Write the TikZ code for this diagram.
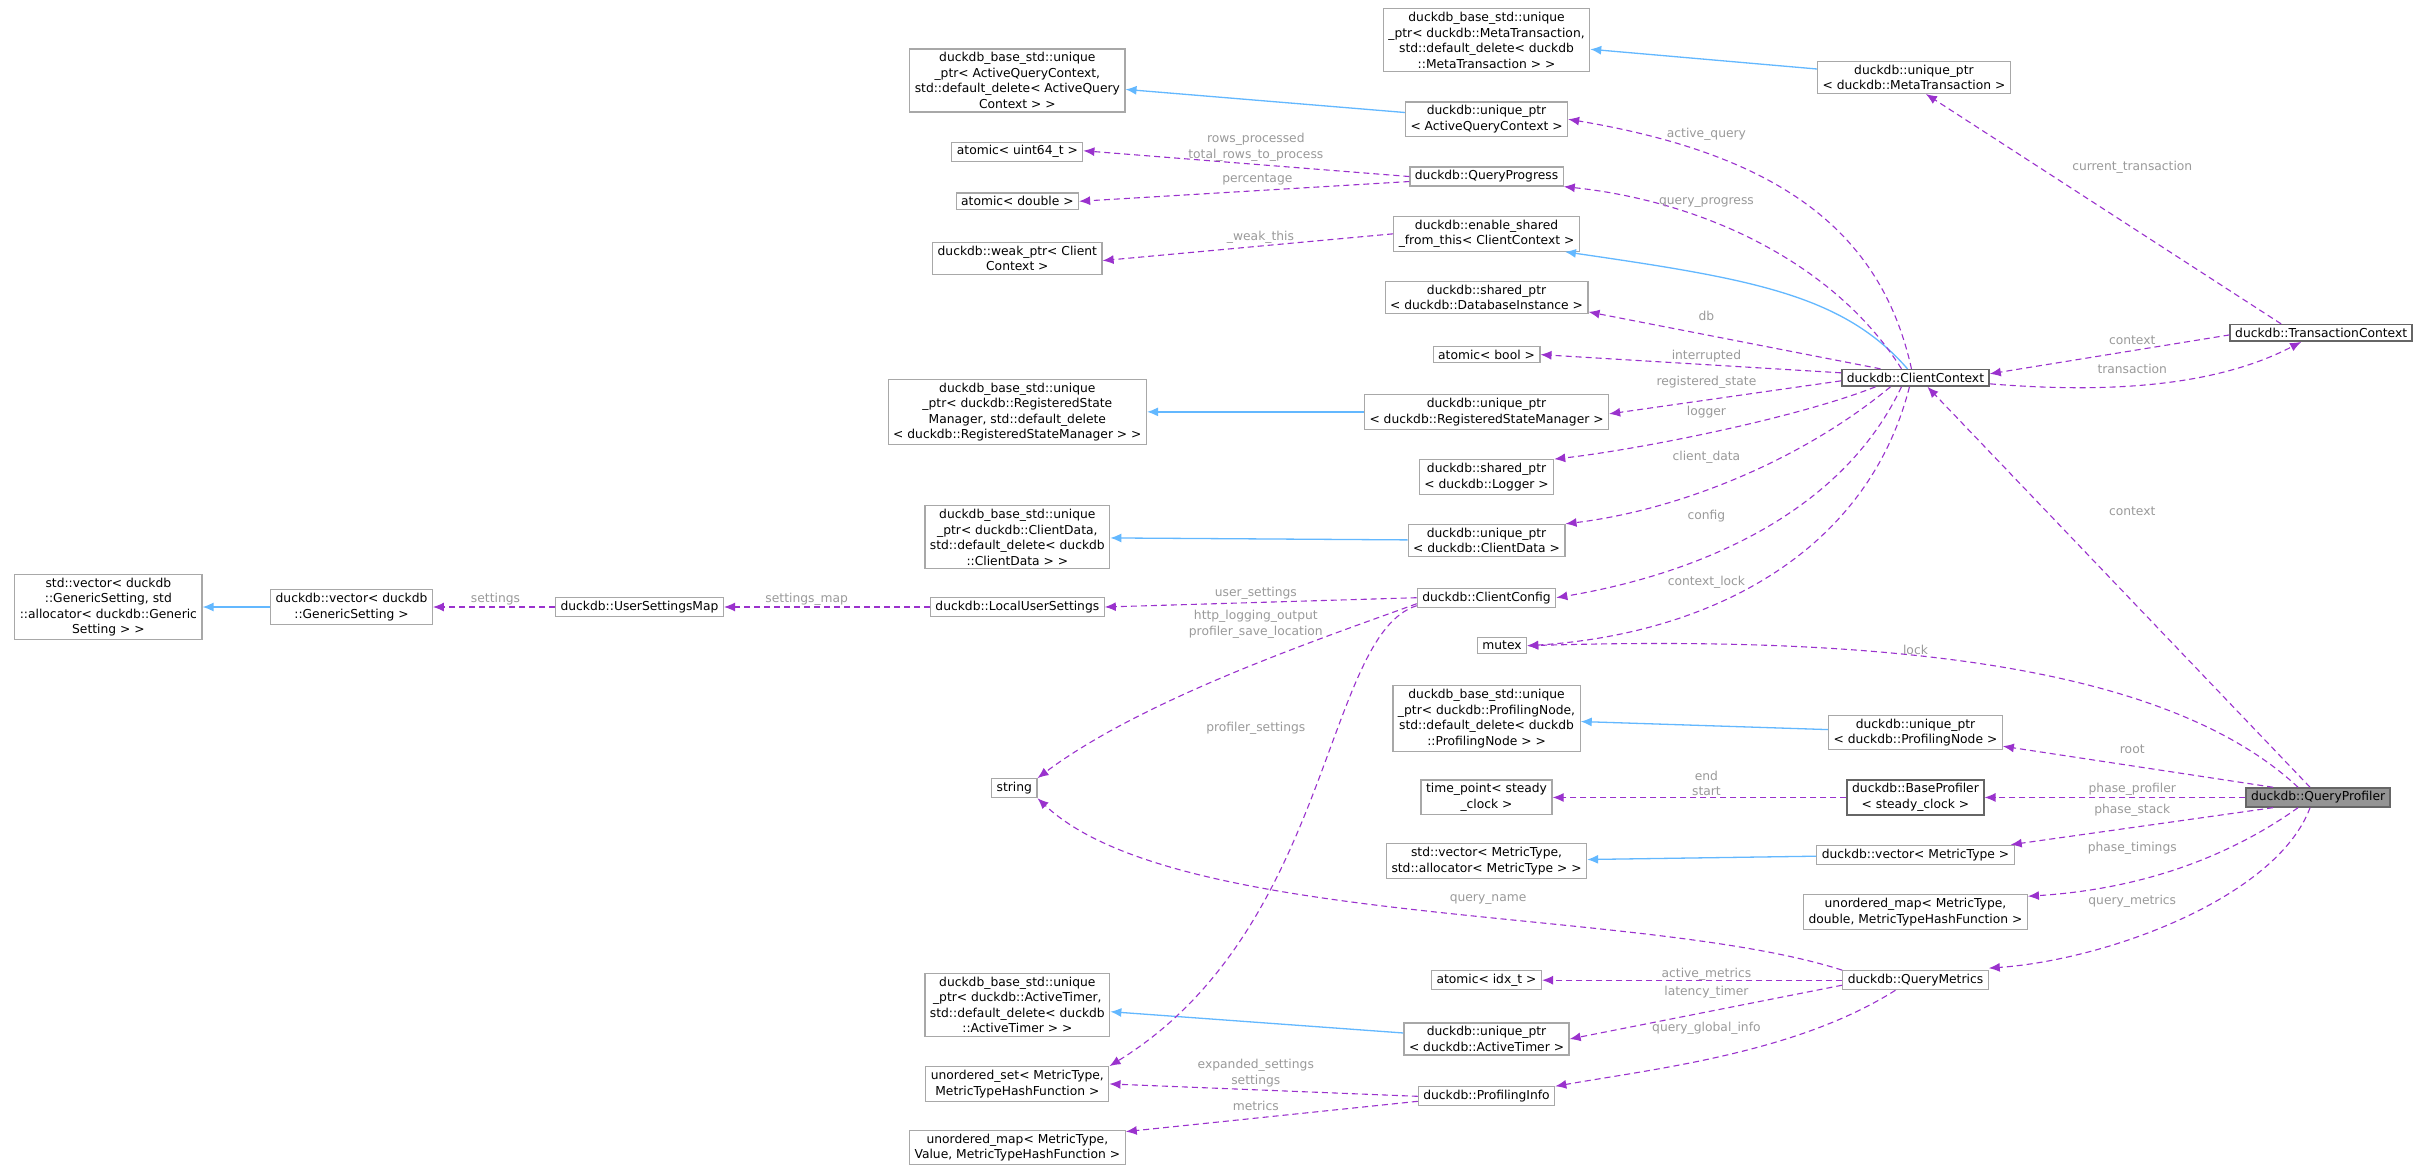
\documentclass[tikz,border=0pt]{standalone}
\usepackage{fontspec}
\setmainfont{DejaVu Sans}
\usetikzlibrary{arrows.meta}
\definecolor{edgep}{HTML}{9A32CD}
\definecolor{edgeb}{HTML}{63B8FF}
\definecolor{lblc}{HTML}{9A9A9A}
\definecolor{nb}{HTML}{A8A8A8}
\definecolor{nd}{HTML}{666666}
\begin{document}
\begin{tikzpicture}[x=1.5485pt,y=-1.5485pt,
  every node/.style={font=\fontsize{12.3}{15.5}\selectfont},
  nd/.style={draw=nb,line width=1.2pt,fill=white,align=center,inner xsep=5pt,inner ysep=3.5pt},
  dk/.style={nd,draw=nd,line width=1.5pt},
  cur/.style={nd,draw=nd,fill=nd!70,line width=1.5pt},
  lb/.style={text=lblc,align=center,inner sep=0pt},
  mem/.style={edgep,line width=1.1pt,dash pattern=on 6pt off 4pt,-{Latex[length=11pt,width=9pt]}},
  inh/.style={edgeb,line width=1.3pt,-{Latex[length=11pt,width=9pt]}}]
\useasboundingbox[fill=white] (0,0) rectangle (1568,757);
% nodes
\node[nd] (MTbase) at (960,26) {duckdb\_base\_std::unique\\\_ptr< duckdb::MetaTransaction,\\std::default\_delete< duckdb\\::MetaTransaction > >};
\node[nd] (MTuptr) at (1236,50) {duckdb::unique\_ptr\\< duckdb::MetaTransaction >};
\node[nd] (AQCbase) at (657,52) {duckdb\_base\_std::unique\\\_ptr< ActiveQueryContext,\\std::default\_delete< ActiveQuery\\Context > >};
\node[nd] (AQCuptr) at (960,77) {duckdb::unique\_ptr\\< ActiveQueryContext >};
\node[nd] (au64) at (657,98) {atomic< uint64\_t >};
\node[nd] (QP) at (960,114) {duckdb::QueryProgress};
\node[nd] (adouble) at (657,130) {atomic< double >};
\node[nd] (weak) at (657,167) {duckdb::weak\_ptr< Client\\Context >};
\node[nd] (enable) at (960,151) {duckdb::enable\_shared\\\_from\_this< ClientContext >};
\node[nd] (dbinst) at (960,192) {duckdb::shared\_ptr\\< duckdb::DatabaseInstance >};
\node[nd] (abool) at (960,229) {atomic< bool >};
\node[nd] (RSbase) at (657,266) {duckdb\_base\_std::unique\\\_ptr< duckdb::RegisteredState\\Manager, std::default\_delete\\< duckdb::RegisteredStateManager > >};
\node[nd] (RSuptr) at (960,266) {duckdb::unique\_ptr\\< duckdb::RegisteredStateManager >};
\node[dk] (CC) at (1237,244) {duckdb::ClientContext};
\node[dk] (TC) at (1499,215) {duckdb::TransactionContext};
\node[nd] (logger) at (960,308) {duckdb::shared\_ptr\\< duckdb::Logger >};
\node[nd] (CDbase) at (657,347) {duckdb\_base\_std::unique\\\_ptr< duckdb::ClientData,\\std::default\_delete< duckdb\\::ClientData > >};
\node[nd] (CDuptr) at (960,349) {duckdb::unique\_ptr\\< duckdb::ClientData >};
\node[nd] (CConfig) at (960,386) {duckdb::ClientConfig};
\node[nd] (LUS) at (657,392) {duckdb::LocalUserSettings};
\node[nd] (USM) at (413,392) {duckdb::UserSettingsMap};
\node[nd] (vecGS) at (227,392) {duckdb::vector< duckdb\\::GenericSetting >};
\node[nd] (stdvecGS) at (70,392) {std::vector< duckdb\\::GenericSetting, std\\::allocator< duckdb::Generic\\Setting > >};
\node[nd] (mutex) at (970,417) {mutex};
\node[nd] (string) at (655,509) {string};
\node[nd] (PNbase) at (960,464) {duckdb\_base\_std::unique\\\_ptr< duckdb::ProfilingNode,\\std::default\_delete< duckdb\\::ProfilingNode > >};
\node[nd] (PNuptr) at (1237,473) {duckdb::unique\_ptr\\< duckdb::ProfilingNode >};
\node[nd] (timepoint) at (960,515) {time\_point< steady\\\_clock >};
\node[dk] (BaseProf) at (1237,515) {duckdb::BaseProfiler\\< steady\_clock >};
\node[cur] (QProf) at (1497,515) {duckdb::QueryProfiler};
\node[nd] (stdvecMT) at (960,556) {std::vector< MetricType,\\std::allocator< MetricType > >};
\node[nd] (vecMT) at (1237,552) {duckdb::vector< MetricType >};
\node[nd] (umapdouble) at (1237,589) {unordered\_map< MetricType,\\double, MetricTypeHashFunction >};
\node[nd] (atomicidx) at (960,633) {atomic< idx\_t >};
\node[nd] (QMetrics) at (1237,633) {duckdb::QueryMetrics};
\node[nd] (ATbase) at (657,649) {duckdb\_base\_std::unique\\\_ptr< duckdb::ActiveTimer,\\std::default\_delete< duckdb\\::ActiveTimer > >};
\node[nd] (ATuptr) at (960,671) {duckdb::unique\_ptr\\< duckdb::ActiveTimer >};
\node[nd] (uset) at (657,700) {unordered\_set< MetricType,\\MetricTypeHashFunction >};
\node[nd] (PInfo) at (960,708) {duckdb::ProfilingInfo};
\node[nd] (umapvalue) at (657,741) {unordered\_map< MetricType,\\Value, MetricTypeHashFunction >};
% inheritance
\draw[inh] (MTuptr) -- (MTbase);
\draw[inh] (AQCuptr) -- (AQCbase);
\draw[inh] (RSuptr) -- (RSbase);
\draw[inh] (CDuptr) -- (CDbase);
\draw[inh] (vecGS) -- (stdvecGS);
\draw[inh] (PNuptr) -- (PNbase);
\draw[inh] (vecMT) -- (stdvecMT);
\draw[inh] (ATuptr) -- (ATbase);
\draw[inh] ([xshift=-8pt]CC.north) .. controls (1190,190) and (1130,180) .. ([xshift=-15pt]enable.south east);
% members
\draw[mem] ([xshift=-40pt]TC.north) -- ([xshift=12pt]MTuptr.south);
\draw[mem] ([xshift=-4pt]CC.north) .. controls (1215,150) and (1150,100) .. (AQCuptr.east);
\draw[mem] ([xshift=-14pt]CC.north) .. controls (1185,170) and (1100,130) .. (QP.south east);
\draw[mem] ([xshift=-35pt]CC.north) -- ([yshift=2pt]dbinst.south east);
\draw[mem] ([yshift=5pt]CC.west) -- (abool.east);
\draw[mem] ([yshift=-3pt]CC.west) -- ([yshift=-2pt]RSuptr.east);
\draw[mem] ([xshift=-40pt]CC.south) .. controls (1160,270) and (1060,290) .. (logger.north east);
\draw[mem] ([xshift=-25pt]CC.south) .. controls (1160,300) and (1080,330) .. (CDuptr.north east);
\draw[mem] ([xshift=-14pt]CC.south) .. controls (1190,330) and (1100,370) .. (CConfig.east);
\draw[mem] ([xshift=-6pt]CC.south) .. controls (1205,360) and (1100,410) .. (mutex.east);
\draw[mem] ([yshift=-2pt]TC.west) -- ([yshift=4pt]CC.east);
\draw[mem] ([yshift=-6pt]CC.east) .. controls (1360,254) and (1430,250) .. ([xshift=-20pt]TC.south);
\draw[mem] ([xshift=-8pt]QProf.north) -- ([xshift=12pt]CC.south);
\draw[mem] (QP.west) -- ([yshift=1pt]au64.east);
\draw[mem] ([yshift=-5pt]QP.west) -- (adouble.east);
\draw[mem] (enable.west) -- ([yshift=-2pt]weak.east);
\draw[mem] (CConfig.west) -- (LUS.east);
\draw[mem] (LUS.west) -- (USM.east);
\draw[mem] (USM.west) -- (vecGS.east);
\draw[mem] ([yshift=-6pt]CConfig.west) .. controls (860,410) and (740,450) .. (string.north east);
\draw[mem] ([yshift=-8pt]CConfig.west) .. controls (855,410) and (860,600) .. (uset.north east);
\draw[mem] ([xshift=-20pt]QProf.north) .. controls (1400,430) and (1220,410) .. (mutex.east);
\draw[mem] ([xshift=-45pt]QProf.north) -- ([yshift=4pt]PNuptr.south east);
\draw[mem] (QProf.west) -- (BaseProf.east);
\draw[mem] (BaseProf.west) -- (timepoint.east);
\draw[mem] ([xshift=-45pt]QProf.south) -- ([xshift=-4pt]vecMT.north east);
\draw[mem] ([xshift=-20pt]QProf.south) .. controls (1430,560) and (1370,575) .. ([yshift=-2pt]umapdouble.north east);
\draw[mem] ([xshift=-8pt]QProf.south) .. controls (1470,580) and (1360,620) .. ([yshift=2pt]QMetrics.north east);
\draw[mem] (QMetrics.north west) .. controls (1060,585) and (760,600) .. (string.south east);
\draw[mem] (QMetrics.west) -- (atomicidx.east);
\draw[mem] ([yshift=-5pt]QMetrics.west) -- (ATuptr.east);
\draw[mem] ([xshift=-20pt]QMetrics.south) .. controls (1160,680) and (1070,690) .. (PInfo.north east);
\draw[mem] (PInfo.west) -- (uset.east);
\draw[mem] ([yshift=-5pt]PInfo.west) -- ([yshift=-2pt]umapvalue.north east);
% labels
\node[lb] (l1) at (1377,108) {current\_transaction};
\node[lb] (l2) at (1102,87) {active\_query};
\node[lb] (l3) at (1102,131) {query\_progress};
\node[lb] (l4) at (811,95) {rows\_processed\\total\_rows\_to\_process};
\node[lb] (l5) at (812,116) {percentage};
\node[lb] (l6) at (814,153) {\_weak\_this};
\node[lb] (l7) at (1102,204) {db};
\node[lb] (l8) at (1102,230) {interrupted};
\node[lb] (l9) at (1102,247) {registered\_state};
\node[lb] (l10) at (1102,266) {logger};
\node[lb] (l11) at (1102,295) {client\_data};
\node[lb] (l12) at (1102,333) {config};
\node[lb] (l13) at (1102,376) {context\_lock};
\node[lb] (l14) at (1377,220) {context};
\node[lb] (l15) at (1377,238) {transaction};
\node[lb] (l16) at (1377,330) {context};
\node[lb] (l17) at (811,383) {user\_settings};
\node[lb] (l18) at (811,403) {http\_logging\_output\\profiler\_save\_location};
\node[lb] (l19) at (811,470) {profiler\_settings};
\node[lb] (l20) at (521,387) {settings\_map};
\node[lb] (l21) at (320,387) {settings};
\node[lb] (l22) at (1237,420) {lock};
\node[lb] (l23) at (1377,484) {root};
\node[lb] (l24) at (1102,506) {end\\start};
\node[lb] (l25) at (1377,510) {phase\_profiler};
\node[lb] (l26) at (1377,523) {phase\_stack};
\node[lb] (l27) at (1377,548) {phase\_timings};
\node[lb] (l28) at (1377,582) {query\_metrics};
\node[lb] (l29) at (961,581) {query\_name};
\node[lb] (l30) at (1102,629) {active\_metrics};
\node[lb] (l31) at (1102,641) {latency\_timer};
\node[lb] (l32) at (1102,664) {query\_global\_info};
\node[lb] (l33) at (811,693) {expanded\_settings\\settings};
\node[lb] (l34) at (811,714) {metrics};
\end{tikzpicture}
\end{document}
